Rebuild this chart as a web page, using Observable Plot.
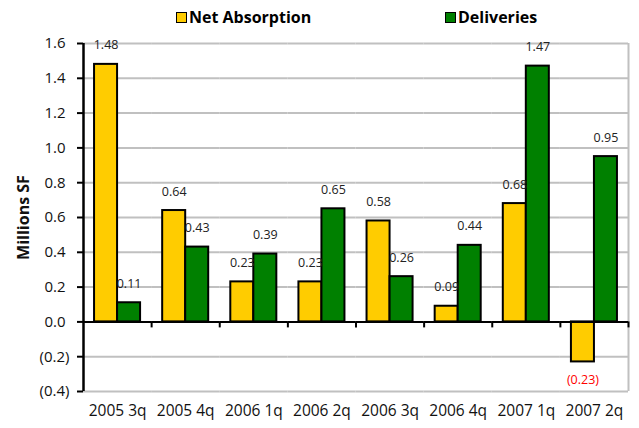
<!DOCTYPE html>
<html>
<head>
<meta charset="utf-8">
<script src="https://cdn.jsdelivr.net/npm/d3@7"></script>
<script src="https://cdn.jsdelivr.net/npm/@observablehq/plot@0.6"></script>
<style>
  html, body { margin: 0; padding: 0; background: #fff; }
  #chart { width: 639px; height: 428px; position: relative; font-family: "Open Sans", sans-serif; }
  #legend { position: relative; height: 30px; width: 639px; }
  .item { position: absolute; top: 7px; display: flex; align-items: center; font-weight: bold; font-size: 16px; color: #000; line-height: 20px; }
  .sw { width: 9px; height: 9px; border: 1.5px solid #000; margin-right: 2px; }
  svg { display: block; }
  g[aria-label="y-axis label"] text { font-weight: bold; font-size: 16px; }
</style>
</head>
<body>
<div id="chart"><div id="legend"></div></div>
<script>
const categories = ["2005 3q", "2005 4q", "2006 1q", "2006 2q", "2006 3q", "2006 4q", "2007 1q", "2007 2q"];
const seriesNames = ["Net Absorption", "Deliveries"];
const netAbsorption = [1.48, 0.64, 0.23, 0.23, 0.58, 0.09, 0.68, -0.23];
const deliveries = [0.11, 0.43, 0.39, 0.65, 0.26, 0.44, 1.47, 0.95];
const seriesColors = ["#FFCC00", "#008000"];
const yTicks = [-0.4, -0.2, 0, 0.2, 0.4, 0.6, 0.8, 1.0, 1.2, 1.4, 1.6];
const yLabel = "Millions SF";

const rows = categories.flatMap((c, i) => [
  {cat: c, series: seriesNames[0], value: netAbsorption[i]},
  {cat: c, series: seriesNames[1], value: deliveries[i]}
]);

// legend
const legend = document.getElementById("legend");
const legendLeft = [176, 445];
seriesNames.forEach((s, i) => {
  const it = document.createElement("div");
  it.className = "item";
  it.style.left = legendLeft[i] + "px";
  const sw = document.createElement("span");
  sw.className = "sw";
  sw.style.background = seriesColors[i];
  const t = document.createElement("span");
  t.textContent = s;
  it.append(sw, t);
  legend.append(it);
});

const W = 639, H = 398, ML = 83, MR = 11, MT = 13, MB = 37;
const pOuter = 0.48;
const fw = (W - ML - MR) / categories.length;
const step = fw / (2 + 2 * pOuter);
const edge = (pOuter + 0.5) * step;

const fmtY = d => d < 0 ? `(${(-d).toFixed(1)})` : d.toFixed(1) + "\u2008";
const last = categories[categories.length - 1];
const first = categories[0];

const chart = Plot.plot({
  width: W, height: H,
  marginLeft: ML, marginRight: MR, marginTop: MT, marginBottom: MB,
  style: {fontFamily: "Open Sans, sans-serif", fontSize: "15px", color: "#111", background: "transparent", overflow: "visible"},
  fx: {domain: categories, padding: 0, round: false, label: null},
  x: {domain: seriesNames, paddingInner: 0, paddingOuter: pOuter, round: false, axis: null},
  y: {domain: [-0.4, 1.6], label: yLabel},
  color: {domain: seriesNames, range: seriesColors},
  marks: [
    Plot.ruleY(yTicks.filter(d => d !== 0), {stroke: "#c0c0c0", strokeWidth: 2}),
    Plot.ruleX([last], {fx: d => d, x: () => seriesNames[1], dx: edge, stroke: "#c0c0c0", strokeWidth: 2}),
    Plot.barY(rows, {fx: "cat", x: "series", y: "value", fill: "series", stroke: "#000", strokeWidth: 2}),
    Plot.ruleY([0], {stroke: "#000", strokeWidth: 2}),
    Plot.ruleX(categories, {fx: d => d, x: () => seriesNames[1], dx: edge, y1: 0, y2: 0, insetBottom: -6, stroke: "#000", strokeWidth: 2}),
    Plot.ruleX([first], {fx: d => d, x: () => seriesNames[0], dx: -edge, stroke: "#000", strokeWidth: 2.5}),
    Plot.text(rows.filter(d => d.value >= 0), {fx: "cat", x: "series", y: "value", text: d => d.value.toFixed(2), dy: -19, fontSize: 12.5, fill: "#222"}),
    Plot.text(rows.filter(d => d.value < 0), {fx: "cat", x: "series", y: "value", text: d => `(${(-d.value).toFixed(2)})`, dy: 18, fontSize: 12.5, fill: "#ff0000"}),
    Plot.axisY(yTicks, {tickFormat: fmtY, tickSize: 6, tickPadding: 8, strokeWidth: 2, stroke: "#000", label: yLabel, labelAnchor: "center", labelOffset: 66, labelArrow: "none"}),
    Plot.axisFx({anchor: "bottom", tickSize: 0, tickPadding: 13, fontSize: 15.5, label: null})
  ]
});
document.getElementById("chart").append(chart);
</script>
</body>
</html>
